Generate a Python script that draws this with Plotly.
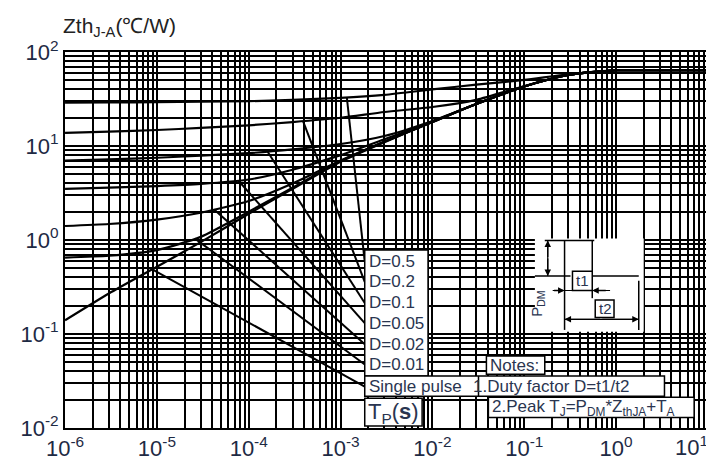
import numpy as np
import plotly.graph_objects as go

# ---- data ----
t = [1e-6, 3e-6, 1e-5, 3e-5, 1e-4, 3e-4, 1e-3, 3e-3, 1e-2, 3e-2, 1e-1, 3e-1, 1, 3, 10]
z_d05 = [29, 29.1, 29.3, 29.6, 30.0, 31.0, 32.5, 35.0, 40.0, 45.0, 50.5, 58, 64, 64, 64]
z_d02 = [13.8, 14.2, 14.8, 15.6, 16.6, 18.0, 20.0, 23.0, 26.0, 31.0, 43.5, 57, 64, 64, 64]
z_d01 = [7.0, 7.2, 7.5, 7.9, 8.4, 9.2, 10.5, 12.8, 18.5, 28.0, 43.0, 57, 64, 64, 64]
z_d005 = [3.5, 3.6, 3.75, 3.95, 4.4, 5.6, 8.0, 11.8, 18.2, 28.0, 43.0, 57, 64, 64, 64]
z_d002 = [1.41, 1.48, 1.65, 1.95, 2.6, 4.0, 7.0, 11.2, 18.0, 28.0, 43.0, 57, 64, 64, 64]
z_d001 = [0.65, 0.68, 0.78, 1.08, 2.0, 3.6, 6.9, 11.1, 18.0, 28.0, 43.0, 57, 64, 64, 64]
z_sp = [0.14, 0.27, 0.52, 0.95, 1.9, 3.5, 6.8, 11.0, 18.0, 28.0, 43.0, 57, 64, 64, 64]

labels = ["D=0.5", "D=0.2", "D=0.1", "D=0.05", "D=0.02", "D=0.01", "Single pulse"]
curves = [z_d05, z_d02, z_d01, z_d005, z_d002, z_d001, z_sp]
leader_t = [1.17e-3, 3.9e-4, 1.6e-4, 7.7e-5, 4.2e-5, 2.6e-5, 8.9e-6]

x_ticks = [1e-6, 1e-5, 1e-4, 1e-3, 1e-2, 1e-1, 1]
x_ticktext = ["10<sup>-6</sup>", "10<sup>-5</sup>", "10<sup>-4</sup>", "10<sup>-3</sup>",
              "10<sup>-2</sup>", "10<sup>-1</sup>", "10<sup>0</sup>"]
x_last_tick_text = "10<sup>1</sup>"
y_ticks = [1e-2, 1e-1, 1, 10, 100]
y_ticktext = ["10<sup>-2</sup>", "10<sup>-1</sup>", "10<sup>0</sup>", "10<sup>1</sup>", "10<sup>2</sup>"]

# ---- layout geometry (pixels) ----
W, H = 714, 465
L, R, T, B = 52, 702, 44, 435
XR = [-6.0005, 1.0005]
YR = [-2.0005, 2.0005]


def px(x):
    return (x - L) / (R - L)


def py(y):
    return (B - y) / (B - T)


def data_x(xp):
    return 10 ** (XR[0] + (XR[1] - XR[0]) * px(xp))


def data_y(yp):
    return 10 ** (YR[0] + (YR[1] - YR[0]) * py(yp))


label_y_px = [262, 283, 305, 326, 348, 369, 392]
label_x_px = 355

FONT = "Liberation Sans, Arial, sans-serif"
TXT = "#2a3550"
TICKC = "#1e2a44"

fig = go.Figure()

for z in curves:
    fig.add_trace(go.Scatter(x=t, y=z, mode="lines",
                             line=dict(color="black", width=2.2, shape="spline", smoothing=0.6),
                             showlegend=False, hoverinfo="skip"))

# leader lines from curves to labels
for lt, z, ly in zip(leader_t, curves, label_y_px):
    zy = 10 ** np.interp(np.log10(lt), np.log10(t), np.log10(z))
    fig.add_trace(go.Scatter(x=[lt, data_x(label_x_px)], y=[zy, data_y(ly)], mode="lines",
                             line=dict(color="black", width=2), showlegend=False, hoverinfo="skip"))

shapes = []


def rect(x0, y0, x1, y1, border=1.5):
    shapes.append(dict(type="rect", xref="paper", yref="paper", x0=px(x0), x1=px(x1),
                       y0=py(y1), y1=py(y0), fillcolor="white",
                       line=dict(color="black", width=border), layer="above"))


def line(x0, y0, x1, y1, w=1.5):
    shapes.append(dict(type="line", xref="paper", yref="paper", x0=px(x0), x1=px(x1),
                       y0=py(y0), y1=py(y1), line=dict(color="black", width=w), layer="above"))


# label boxes
rect(355, 250, 419, 381)
rect(355, 381, 658, 402)
line(470, 381, 470, 402)
rect(478, 360, 537, 379)
rect(480, 403, 688, 424)
rect(355, 404, 413, 433)

# pulse inset
rect(527, 238, 637, 335, border=0)
line(557, 240, 557, 333)
line(537, 240, 587, 240)
line(585, 240, 585, 300)
line(527, 277, 563, 277)
line(585, 277, 632, 277)
line(632, 282, 632, 333)
line(545, 292, 603, 292, 1.2)
line(557, 322, 632, 322, 1.2)
line(540, 240, 540, 277, 1.2)
rect(565, 272, 585, 292)
rect(588, 302, 607, 320)

annotations = []


def text(xp, ypx, s, size=17, anchor="left", angle=0, color=TXT):
    annotations.append(dict(xref="paper", yref="paper", x=px(xp), y=py(ypx), text=s,
                            showarrow=False, xanchor=anchor, yanchor="middle", textangle=angle,
                            font=dict(family=FONT, size=size, color=color)))


def arrow(x_tip, y_tip, x_tail, y_tail):
    annotations.append(dict(xref="paper", yref="paper", x=px(x_tip), y=py(y_tip),
                            ax=x_tail - x_tip, ay=y_tail - y_tip, text="", showarrow=True,
                            arrowhead=2, arrowsize=1, arrowwidth=1.3, arrowcolor="black"))


for lab, ly in zip(labels, label_y_px):
    text(357, ly, lab)
text(480, 370, "Notes:")
text(462, 392, "1.Duty factor D=t1/t2")
text(482, 414, "2.Peak T<sub>J</sub>=P<sub>DM</sub>*Z<sub>thJA</sub>+T<sub>A</sub>")
text(356, 419, "T<sub>P</sub>(<b>s</b>)", size=22)
text(575, 282, "t1", size=15, anchor="center")
text(598, 311, "t2", size=15, anchor="center")
text(530, 306, "P<sub>DM</sub>", size=15, anchor="center", angle=-90)

arrow(540, 240, 540, 258)
arrow(540, 277, 540, 258)
arrow(557, 292, 545, 292)
arrow(585, 292, 600, 292)
arrow(557, 322, 594, 322)
arrow(632, 322, 594, 322)

# last x tick label (at the right edge of the plot)
annotations.append(dict(xref="paper", yref="paper", x=px(704), y=py(437), text=x_last_tick_text,
                        showarrow=False, xanchor="right", yanchor="top",
                        font=dict(family=FONT, size=22, color=TICKC)))

# axis title at top-left
annotations.append(dict(xref="paper", yref="paper", x=px(48), y=py(18),
                        text="Zth<sub>J-A</sub>(℃/W)", showarrow=False,
                        xanchor="left", yanchor="middle",
                        font=dict(family=FONT, size=21, color="#222")))

x_minor = [m * 10.0 ** e for e in range(-6, 1) for m in range(2, 10)]
y_minor = [m * 10.0 ** e for e in range(-2, 2) for m in range(2, 10)]

axis_common = dict(type="log", showgrid=True, gridcolor="black", gridwidth=2,
                   showline=True, linecolor="black", linewidth=2, mirror=True,
                   ticks="", zeroline=False,
                   tickfont=dict(family=FONT, size=22, color=TICKC))

fig.update_layout(
    width=W, height=H,
    margin=dict(l=L, r=W - R, t=T, b=H - B, pad=0),
    paper_bgcolor="white", plot_bgcolor="white",
    xaxis=dict(range=XR, tickmode="array", tickvals=x_ticks, ticktext=x_ticktext,
               minor=dict(tickmode="array", tickvals=x_minor + [10], showgrid=True,
                          gridcolor="black", gridwidth=2, ticks=""),
               **axis_common),
    yaxis=dict(range=YR, tickmode="array", tickvals=y_ticks, ticktext=y_ticktext,
               minor=dict(tickmode="array", tickvals=y_minor, showgrid=True,
                          gridcolor="black", gridwidth=2, ticks=""),
               **axis_common),
    shapes=shapes, annotations=annotations,
)

fig.write_html("out.html")
